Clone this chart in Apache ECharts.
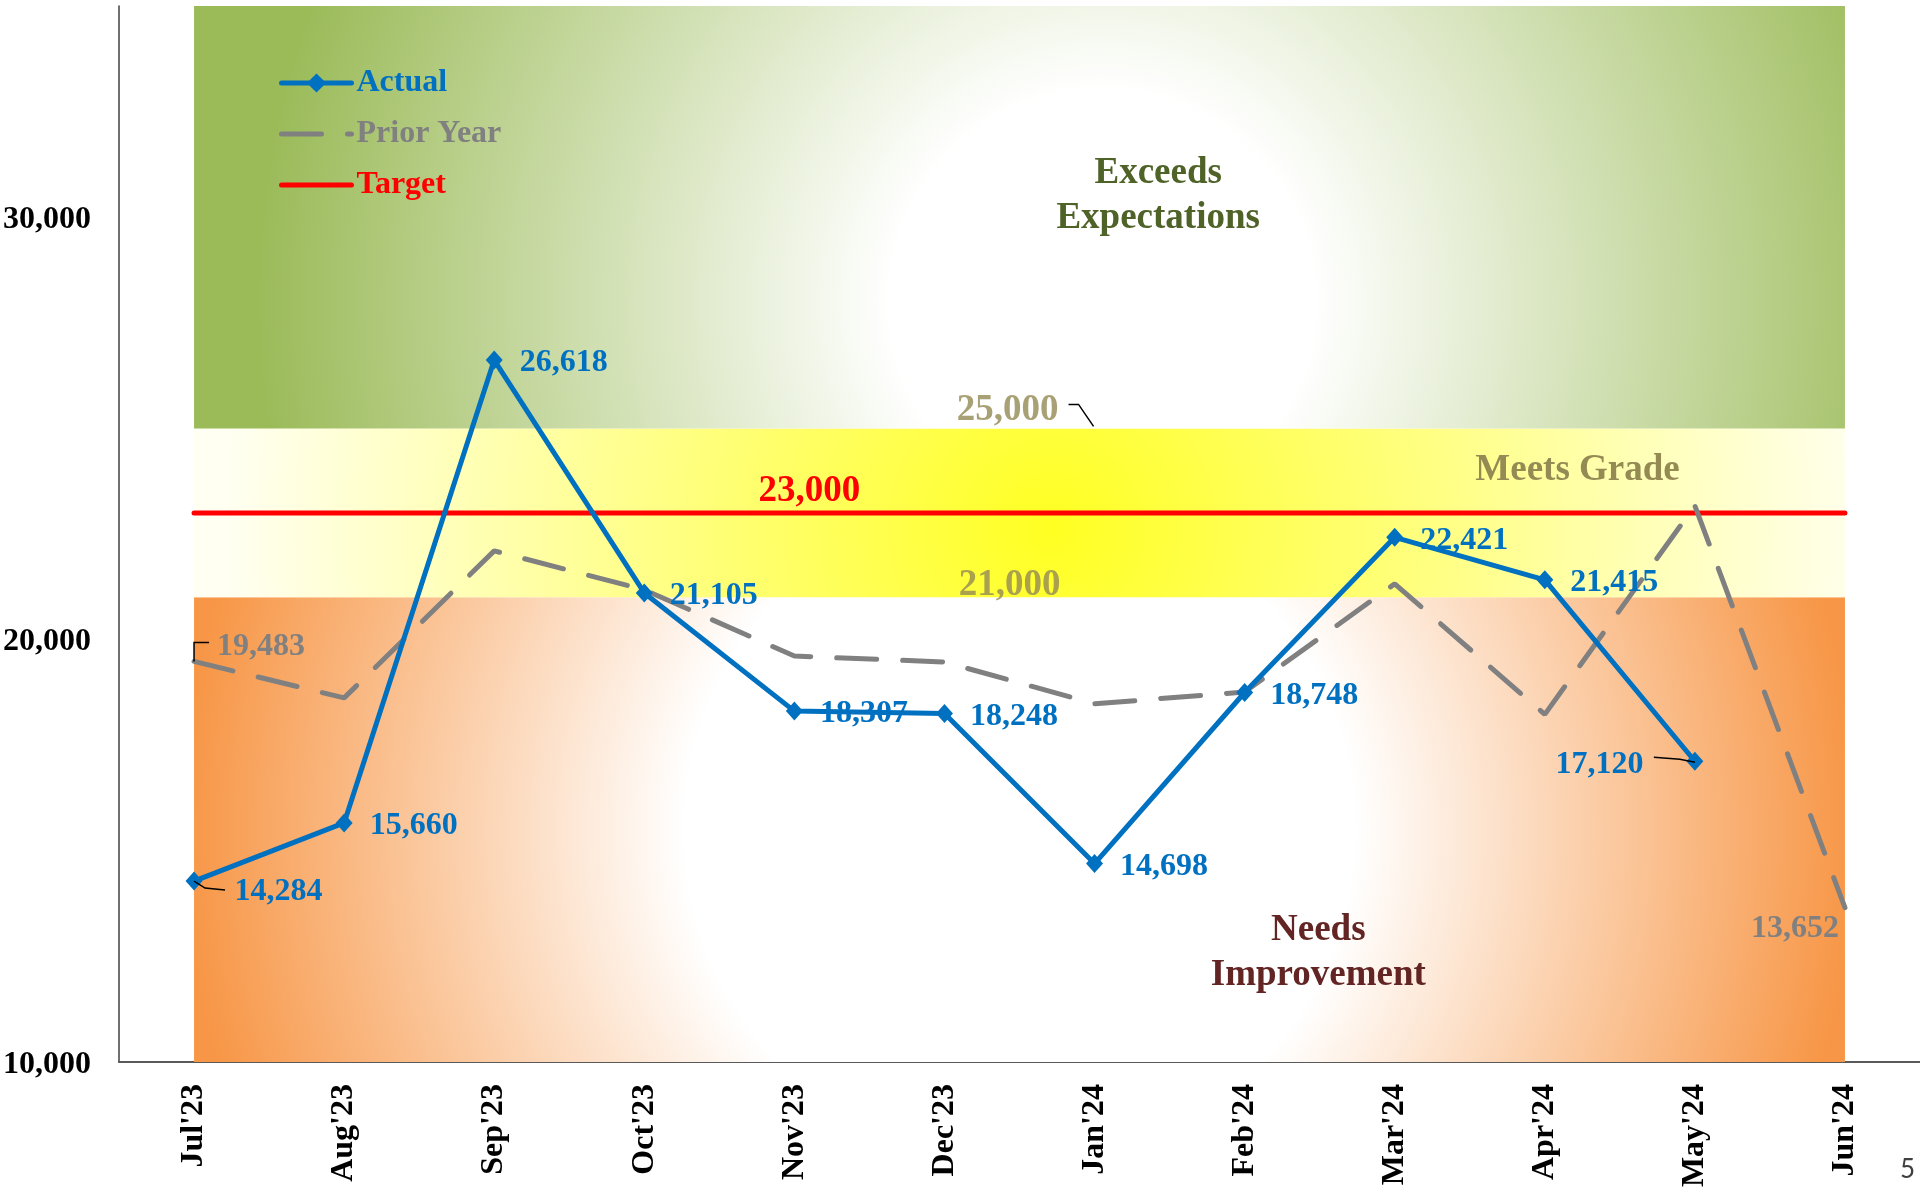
<!DOCTYPE html>
<html>
<head>
<meta charset="utf-8">
<title>Actual vs Prior Year vs Target</title>
<script src="https://cdn.jsdelivr.net/npm/echarts@6.0.0/dist/echarts.min.js"></script>
<style>
  html, body { margin: 0; padding: 0; background: #fff; }
  #chart { width: 1920px; height: 1189px; }
</style>
</head>
<body>
<div id="chart"></div>
<script>
const months = ["Jul'23", "Aug'23", "Sep'23", "Oct'23", "Nov'23", "Dec'23", "Jan'24", "Feb'24", "Mar'24", "Apr'24", "May'24", "Jun'24"];
const actual = [14284, 15660, 26618, 21105, 18307, 18248, 14698, 18748, 22421, 21415, 17120, null];
const priorYear = [19483, 18620, 22100, 21180, 19610, 19470, 18480, 18760, 21320, 18230, 23170, 13652];
const target = [23000, 23000, 23000, 23000, 23000, 23000, 23000, 23000, 23000, 23000, 23000, 23000];
const yTicks = [10000, 20000, 30000];
const zoneEdges = [10000, 21000, 25000, 35000];
const zoneNames = ['Needs\nImprovement', 'Meets Grade', 'Exceeds\nExpectations'];
const edgeLabelMonth = "Jan'24";
const edgeLabels = [25000, 21000];
const targetLabelMonth = "Nov'23";

const FONT = '"Liberation Serif", "Times New Roman", serif';
const BLUE = '#0070C0';
const GREY = '#808080';
const RED = '#FF0000';
const NONE = 'rgba(0,0,0,0)';

const fmt = v => Number(v).toLocaleString('en-US');

// attach per-point label tweaks to plain values
const points = (values, extras) => values.map((v, i) => extras[i] ? { value: v, ...extras[i] } : v);

// zone fills, bottom to top
const zoneFills = [
  new echarts.graphic.RadialGradient(0.5, 0.5, 1.8, [
    { offset: 0, color: '#ffffff' },
    { offset: 0.4, color: '#ffffff' },
    { offset: 1, color: '#F79646' }
  ]),
  new echarts.graphic.RadialGradient(0.52, 0.6, 4.9, [
    { offset: 0, color: '#FFFF22' },
    { offset: 1, color: '#FFFFF2' }
  ]),
  new echarts.graphic.RadialGradient(0.55, 0.7, 2.0, [
    { offset: 0, color: '#ffffff' },
    { offset: 0.25, color: '#ffffff' },
    { offset: 1, color: '#9BBB59' }
  ])
];
const zoneTextColors = ['#632523', '#948A54', '#4F6228'];
const zoneTextPos = [['68.1%', '76.5%'], ['83.8%', '24.9%'], ['58.4%', '45%']];

const zoneAreas = zoneNames.map((name, i) => [
  {
    name: name,
    xAxis: months[0],
    yAxis: zoneEdges[i],
    itemStyle: { color: zoneFills[i] },
    label: {
      show: true,
      position: zoneTextPos[i],
      align: 'center',
      verticalAlign: 'middle',
      color: zoneTextColors[i],
      fontSize: 37,
      lineHeight: 45,
      fontWeight: 'bold',
      fontFamily: FONT
    }
  },
  { xAxis: months[months.length - 1], yAxis: zoneEdges[i + 1] }
]);

// small black leader lines: anchored on data points, shape given as pixel offsets
const leaderAnchors = [
  [edgeLabelMonth, edgeLabels[0]],
  [months[0], priorYear[0]],
  [months[0], actual[0]],
  [months[10], actual[10]]
];
const leaderShapes = [
  [[-26, -24], [-16, -24], [-1, -2]],
  [[0, 0], [0, -19], [15, -19]],
  [[0, 0], [11, 7], [31, 9]],
  [[-41, -4], [-15, -2], [0, 1]]
];

const actualNudges = { 0: { dx: 15, dy: 11 } };
const priorNudges = { 0: { dx: 0, dy: -15 }, 11: { dx: -50, dy: 3 } };
const edgeNudges = [{ dx: -31, dy: -18 }, { dx: -29, dy: -12 }];

const option = {
  animation: false,
  backgroundColor: '#ffffff',
  textStyle: { fontFamily: FONT },
  grid: { left: 119, right: 0, top: 6, bottom: 127, containLabel: false, outerBoundsMode: 'none' },
  legend: {
    data: [
      { name: 'Actual', textStyle: { color: BLUE } },
      { name: 'Prior Year', textStyle: { color: GREY } },
      { name: 'Target', textStyle: { color: RED } }
    ],
    orient: 'vertical',
    left: 279,
    top: 67,
    padding: 0,
    itemWidth: 70,
    itemHeight: 24,
    itemGap: 19,
    selectedMode: false,
    lineStyle: { width: 5, cap: 'round' },
    textStyle: { fontSize: 32, fontWeight: 'bold', fontFamily: FONT, lineHeight: 32 }
  },
  xAxis: {
    type: 'category',
    data: months,
    boundaryGap: true,
    axisLine: { lineStyle: { color: '#595959', width: 2 } },
    axisTick: { show: false },
    axisLabel: {
      interval: 0,
      rotate: 90,
      margin: 22,
      color: '#000',
      fontSize: 32,
      fontWeight: 'bold',
      fontFamily: FONT
    },
    splitLine: { show: false }
  },
  yAxis: {
    type: 'value',
    min: yTicks[0],
    max: zoneEdges[zoneEdges.length - 1],
    interval: yTicks[1] - yTicks[0],
    axisLine: { show: true, lineStyle: { color: '#404040', width: 1.5 } },
    axisTick: { show: false },
    splitLine: { show: false },
    axisLabel: {
      showMaxLabel: false,
      margin: 28,
      color: '#000',
      fontSize: 32,
      fontWeight: 'bold',
      fontFamily: FONT,
      formatter: v => '{t|' + fmt(v) + '}',
      rich: {
        t: {
          padding: [5, 0, 0, 0],
          color: '#000',
          fontSize: 32,
          fontWeight: 'bold',
          fontFamily: FONT
        }
      }
    }
  },
  series: [
    {
      name: 'Target',
      type: 'line',
      data: points(target, {
        [months.indexOf(targetLabelMonth)]: { label: { show: true } }
      }),
      symbol: 'circle',
      symbolSize: 0,
      itemStyle: { color: NONE },
      lineStyle: { color: RED, width: 5, cap: 'round' },
      emphasis: { disabled: true },
      label: {
        show: false,
        position: 'top',
        distance: 3,
        offset: [15, 0],
        color: RED,
        fontSize: 37,
        fontWeight: 'bold',
        fontFamily: FONT,
        formatter: p => fmt(p.value)
      },
      markArea: {
        silent: true,
        data: zoneAreas
      },
      z: 2
    },
    {
      name: 'Prior Year',
      type: 'line',
      data: points(priorYear, {
        0: { label: { show: true, position: 'right', distance: 23 } },
        11: { label: { show: true, position: 'bottom', distance: 2 } }
      }),
      symbol: 'circle',
      symbolSize: 0,
      itemStyle: { color: NONE },
      lineStyle: { color: GREY, width: 5, type: [40, 26], cap: 'round' },
      emphasis: { disabled: true },
      label: {
        show: false,
        color: GREY,
        fontSize: 32,
        fontWeight: 'bold',
        fontFamily: FONT,
        formatter: p => fmt(p.value)
      },
      labelLayout: p => priorNudges[p.dataIndex] || { dx: 0, dy: 0 },
      z: 3
    },
    {
      name: 'Actual',
      type: 'line',
      data: points(actual, {
        10: { label: { position: 'left', distance: 43 } }
      }),
      symbol: 'diamond',
      symbolSize: [17, 19],
      itemStyle: { color: BLUE },
      lineStyle: { color: BLUE, width: 5 },
      emphasis: { disabled: true },
      label: {
        show: true,
        position: 'right',
        distance: 17,
        color: BLUE,
        fontSize: 32,
        fontWeight: 'bold',
        fontFamily: FONT,
        formatter: p => fmt(p.value)
      },
      labelLayout: p => actualNudges[p.dataIndex] || { dx: 0, dy: 3 },
      z: 4
    },
    {
      name: 'Zone edges',
      type: 'scatter',
      symbolSize: 0,
      silent: true,
      data: edgeLabels.map(v => [edgeLabelMonth, v]),
      label: {
        show: true,
        position: 'left',
        distance: 5,
        color: '#948A54',
        fontSize: 37,
        fontWeight: 'bold',
        fontFamily: FONT,
        formatter: p => fmt(p.value[1])
      },
      labelLayout: p => edgeNudges[p.dataIndex],
      z: 3
    },
    {
      name: 'Leaders',
      type: 'custom',
      silent: true,
      data: leaderAnchors.map(a => [months.indexOf(a[0]), a[1]]),
      renderItem: (params, api) => {
        const pt = api.coord([api.value(0), api.value(1)]);
        const shape = leaderShapes[params.dataIndex];
        return {
          type: 'polyline',
          shape: { points: shape.map(o => [pt[0] + o[0], pt[1] + o[1]]) },
          style: { stroke: '#000', lineWidth: 1.5, fill: null }
        };
      },
      z: 5
    }
  ],
  graphic: [
    {
      type: 'text',
      right: 5,
      bottom: 6,
      style: { text: '5', font: '26px Lato, "Open Sans", sans-serif', fill: '#404040' }
    }
  ]
};

const chart = echarts.init(document.getElementById('chart'));
chart.setOption(option);
</script>
</body>
</html>
